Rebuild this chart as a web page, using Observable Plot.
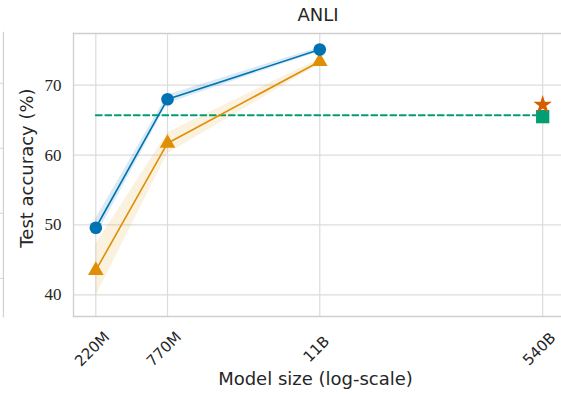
<!DOCTYPE html>
<html>
<head>
<meta charset="utf-8">
<script src="https://cdn.jsdelivr.net/npm/d3@7"></script>
<script src="https://cdn.jsdelivr.net/npm/@observablehq/plot@0.6"></script>
<style>
  html, body { margin: 0; padding: 0; background: #fff; }
  #wrap { position: relative; width: 561px; height: 395px; overflow: hidden; }
  #wrap svg { position: absolute; left: 0; top: 0; }
  #title { position: absolute; left: 268px; width: 100px; top: 4px; text-align: center;
           font-family: "DejaVu Sans", sans-serif; font-size: 18px; color: #262626; }
</style>
</head>
<body>
<div id="wrap"><div id="title">ANLI</div></div>
<script>
// Model sizes (parameters) and tick labels
const sizes = [2.2e8, 7.7e8, 1.1e10];
const tickSizes = [2.2e8, 7.7e8, 1.1e10, 5.4e11];
const tickLabels = ["220M", "770M", "11B", "540B"];
const yTicks = [40, 50, 60, 70];

// Series (test accuracy %)
const blueMean = [49.6, 68.0, 75.1];
const blueLo   = [48.3, 67.4, 74.8];
const blueHi   = [50.9, 68.6, 75.4];
const orangeMean = [43.5, 61.7, 73.4];
const orangeLo   = [39.8, 60.2, 73.0];
const orangeHi   = [47.2, 63.2, 73.8];

// 540B reference points and baseline
const baselineValue = 65.7;
const squareValue = 65.5;
const starValue = 67.2;

// neighbour-panel fragment (its own scale)
const neighborTicks = [20, 30, 40, 50];

const blue = "#0173b2", orange = "#de8f05", green = "#029e73", verm = "#d55e00";
const gridColor = "#dcdcdc";

const blueData = sizes.map((s, i) => ({x: s, y: blueMean[i], lo: blueLo[i], hi: blueHi[i]}));
const orangeData = sizes.map((s, i) => ({x: s, y: orangeMean[i], lo: orangeLo[i], hi: orangeHi[i]}));
const baseData = [{x: tickSizes[0], y: baselineValue}, {x: tickSizes[3], y: baselineValue}];
const ticksData = tickSizes.map((s, i) => ({x: s, label: tickLabels[i]}));

const xDomain = [1.49e8, 7.5e11];
const yDomain = [36.9, 77.4];

const chart = Plot.plot({
  width: 561,
  height: 395,
  marginLeft: 73,
  marginRight: 0,
  marginTop: 33,
  marginBottom: 79,
  style: {background: "transparent", overflow: "visible"},
  x: {type: "log", domain: xDomain, axis: null},
  y: {domain: yDomain, axis: null},
  marks: [
    Plot.ruleX(tickSizes, {stroke: gridColor, strokeWidth: 1.2}),
    Plot.ruleY(yTicks, {stroke: gridColor, strokeWidth: 1.2}),
    Plot.frame({anchor: "left", stroke: "#cfcfcf", strokeWidth: 1.3}),
    Plot.frame({anchor: "top", stroke: "#cfcfcf", strokeWidth: 1.3}),
    Plot.frame({anchor: "bottom", stroke: "#cfcfcf", strokeWidth: 1.3}),
    Plot.axisY(yTicks, {tickSize: 0, tickPadding: 12, fontSize: 17, fontFamily: "Liberation Serif, serif", fill: "#262626", label: null}),
    Plot.text(ticksData, {x: "x", text: "label", frameAnchor: "bottom", dy: 36, rotate: -45, textAnchor: "middle",
      fontSize: 15, fontFamily: "DejaVu Sans, sans-serif", fill: "#262626"}),
    Plot.text(["Model size (log-scale)"], {frameAnchor: "bottom", dy: 68, dx: -2, fontSize: 18, fontFamily: "DejaVu Sans, sans-serif", fill: "#262626"}),
    Plot.text(["Test accuracy (%)"], {frameAnchor: "left", textAnchor: "middle", dx: -46, dy: -7, rotate: -90, fontSize: 18, fontFamily: "DejaVu Sans, sans-serif", fill: "#262626"}),
    Plot.areaY(orangeData, {x: "x", y1: "lo", y2: "hi", fill: orange, fillOpacity: 0.13}),
    Plot.areaY(blueData, {x: "x", y1: "lo", y2: "hi", fill: blue, fillOpacity: 0.15}),
    Plot.line(baseData, {x: "x", y: "y", stroke: green, strokeWidth: 1.8, strokeDasharray: "6,3.5"}),
    Plot.line(orangeData, {x: "x", y: "y", stroke: orange, strokeWidth: 1.6}),
    Plot.line(blueData, {x: "x", y: "y", stroke: blue, strokeWidth: 1.6}),
    Plot.dot(orangeData, {x: "x", y: "y", symbol: "triangle", r: 5.8, fill: orange}),
    Plot.dot(blueData, {x: "x", y: "y", symbol: "circle", r: 6.3, fill: blue}),
    Plot.dot([{x: tickSizes[3], y: squareValue}], {x: "x", y: "y", symbol: "square", r: 7.5, fill: green}),
    Plot.dot([{x: tickSizes[3], y: starValue}], {x: "x", y: "y", symbol: "star", r: 5.8, fill: verm})
  ]
});

// fragment of the neighbouring panel at the left edge
const neighbor = Plot.plot({
  width: 4,
  height: 395,
  marginLeft: 0,
  marginRight: 1,
  marginTop: 32,
  marginBottom: 79,
  style: {background: "transparent"},
  x: {domain: [0, 1], axis: null},
  y: {domain: [14.15, 57.8], axis: null},
  marks: [
    Plot.ruleY(neighborTicks, {stroke: gridColor, strokeWidth: 1.2}),
    Plot.frame({anchor: "right", stroke: "#cfcfcf", strokeWidth: 1.3})
  ]
});

const wrap = document.getElementById("wrap");
wrap.insertBefore(chart, wrap.firstChild);
wrap.insertBefore(neighbor, wrap.firstChild);
</script>
</body>
</html>
